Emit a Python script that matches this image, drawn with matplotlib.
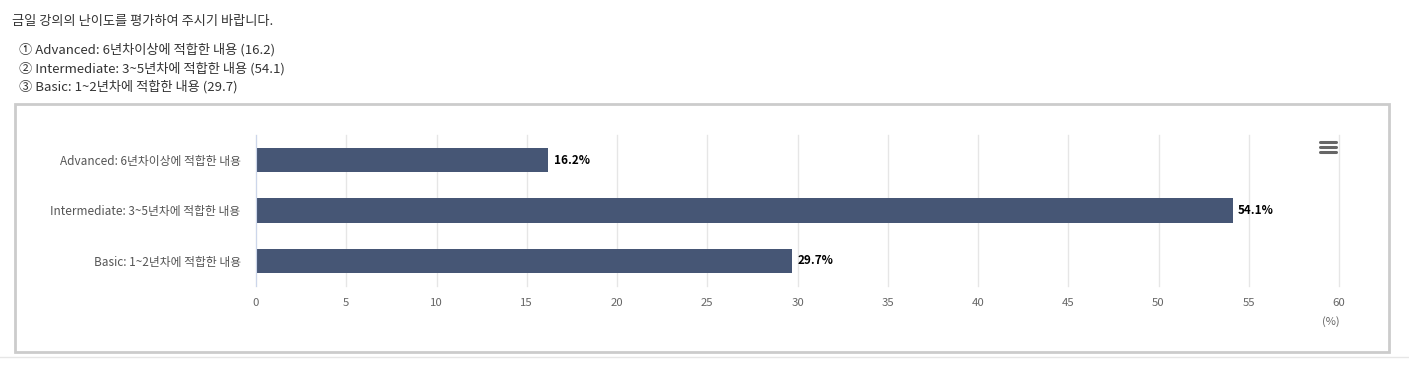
import matplotlib
matplotlib.use("Agg")
import matplotlib.pyplot as plt
from matplotlib.patches import Rectangle
from matplotlib.lines import Line2D

plt.rcParams['font.family'] = ['Noto Sans CJK KR', 'DejaVu Sans']

title = "금일 강의의 난이도를 평가하여 주시기 바랍니다."
legend_lines = [
    "① Advanced: 6년차이상에 적합한 내용 (16.2)",
    "② Intermediate: 3~5년차에 적합한 내용 (54.1)",
    "③ Basic: 1~2년차에 적합한 내용 (29.7)",
]
categories = ["Advanced: 6년차이상에 적합한 내용",
              "Intermediate: 3~5년차에 적합한 내용",
              "Basic: 1~2년차에 적합한 내용"]
values = [16.2, 54.1, 29.7]
xticks = [0, 5, 10, 15, 20, 25, 30, 35, 40, 45, 50, 55, 60]

W, H = 1409, 369
fig = plt.figure(figsize=(W / 100, H / 100), dpi=100)
fig.patch.set_facecolor("white")

def fx(px):
    return px / W

def fy(py):
    return 1 - py / H

# header texts
fig.text(fx(12), fy(21), title, fontsize=9.5, color="#333333", va="center", ha="left")
for i, line in enumerate(legend_lines):
    fig.text(fx(19), fy(50 + i * 18.5), line, fontsize=9.5, color="#333333", va="center", ha="left")

# outer box
fig.patches.append(Rectangle((fx(15), fy(352)), fx(1389) - fx(15), fy(104) - fy(352),
                             transform=fig.transFigure, fill=False, edgecolor="#cccccc",
                             linewidth=2))
fig.lines.append(Line2D([0, 1], [fy(357), fy(357)], transform=fig.transFigure,
                        color="#e6e6e6", linewidth=1))

ax = fig.add_axes([fx(256), fy(286), fx(1339) - fx(256), fy(135) - fy(286)])
ypos = list(range(len(categories)))
ax.barh(ypos, values, height=0.48, color="#465675", zorder=3)
ax.set_ylim(len(categories) - 0.5, -0.5)
ax.set_xlim(0, 60)
ax.set_xticks(xticks)
ax.set_xticklabels([str(t) for t in xticks])
ax.set_yticks(ypos)
ax.set_yticklabels(categories)
ax.grid(axis="x", color="#e6e6e6", linewidth=1, zorder=0)
for gl in ax.get_xgridlines():
    gl.set_clip_on(False)
for s in ["top", "right", "bottom"]:
    ax.spines[s].set_visible(False)
ax.spines["left"].set_color("#ccd6eb")
ax.spines["left"].set_zorder(4)
ax.tick_params(axis="x", length=0, labelsize=8.2, labelcolor="#666666", pad=9)
ax.tick_params(axis="y", length=0, labelsize=8.5, labelcolor="#555555", pad=11)

for y, v in zip(ypos, values):
    ax.text(v + 0.3, y, f"{v}%", va="center", ha="left", fontsize=8.4,
            fontweight="bold", color="#000000", zorder=4)

fig.text(fx(1331), fy(322), "(%)", fontsize=8, color="#666666", ha="center", va="center")

# menu icon
for py in [142, 147, 152]:
    fig.lines.append(Line2D([fx(1320), fx(1336)], [fy(py), fy(py)], transform=fig.transFigure,
                            color="#666666", linewidth=2.2, solid_capstyle="round"))

fig.savefig("out.png", dpi=100)
